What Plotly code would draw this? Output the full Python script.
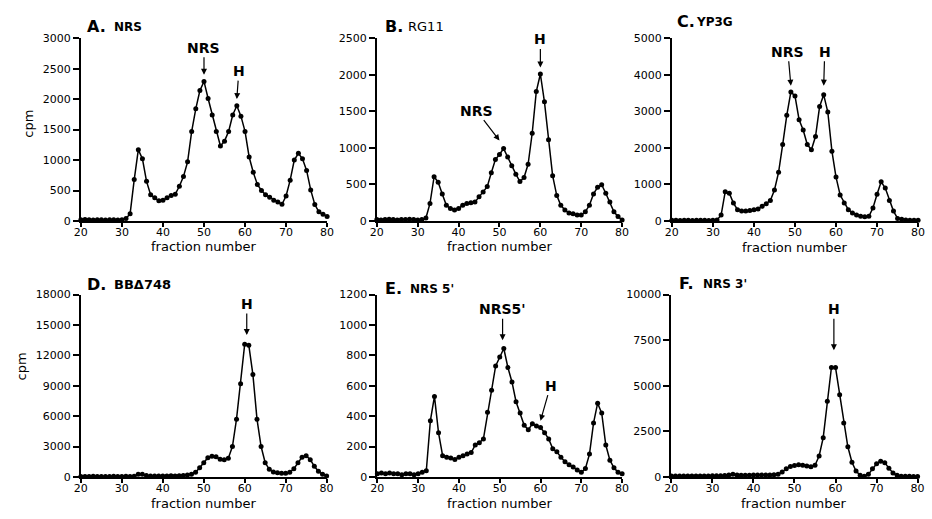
import plotly.graph_objects as go

# ---------------- data (fraction number 20..80) ----------------
fractions = list(range(20, 81))

cpm_A_NRS = [20, 25, 20, 15, 20, 20, 15, 20, 20, 15, 20,
             40, 120, 680, 1170, 1020, 650, 430, 380, 330, 340,
             380, 420, 440, 570, 730, 970, 1470, 1840, 2140, 2290,
             2010, 1740, 1470, 1230, 1310, 1470, 1740, 1890, 1720, 1470,
             1050, 800, 600, 500, 430, 390, 340, 310, 275, 410,
             670, 1000, 1110, 1020, 830, 510, 270, 150, 110, 75]

cpm_B_RG11 = [20, 15, 20, 25, 20, 15, 20, 20, 25, 20, 15, 20, 40,
              240, 605, 530, 370, 215, 170, 150, 170,
              215, 240, 250, 260, 330, 395, 470, 660, 840, 910,
              990, 875, 755, 640, 540, 595, 775, 1200, 1770, 2010,
              1630, 1110, 620, 350, 215, 150, 110, 100, 80, 80,
              125, 215, 370, 460, 495, 380, 260, 125, 60, 15]

cpm_C_YP3G = [20, 20, 15, 20, 20, 15, 20, 20, 20, 15, 20, 30,
              160, 800, 760, 490, 310, 270, 270, 285, 310,
              330, 400, 470, 560, 850, 1330, 2090, 2890, 3530, 3420,
              2770, 2490, 2090, 1950, 2310, 3130, 3450, 2980, 1910, 1200,
              710, 490, 310, 220, 160, 130, 115, 130, 355, 730,
              1070, 900, 560, 270, 70, 45, 30, 20, 20, 20]

cpm_D_BBd748 = [50, 45, 50, 55, 50, 45, 50, 50, 55, 50, 50, 55, 50, 60,
                250, 250, 150, 100, 100, 90, 100,
                100, 110, 100, 120, 150, 180, 250, 450, 900, 1400,
                1900, 2050, 2000, 1750, 1700, 1850, 3000, 5700, 9200, 13100,
                13000, 10100, 5700, 3000, 1400, 750, 480, 400, 350, 350,
                450, 800, 1400, 1950, 2100, 1700, 1050, 550, 250, 80]

cpm_E_NRS5 = [20, 25, 20, 25, 20, 20, 15, 20, 20, 15, 20, 30,
              40, 370, 530, 290, 140, 130, 125, 115, 130,
              140, 150, 160, 210, 225, 250, 425, 570, 730, 790,
              845, 720, 625, 495, 420, 340, 310, 350, 335, 325,
              290, 250, 185, 165, 130, 100, 80, 65, 45, 30,
              55, 150, 355, 485, 420, 210, 110, 60, 30, 20]

cpm_F_NRS3 = [50, 45, 50, 55, 50, 45, 50, 50, 55, 50, 60, 60, 70, 80,
              100, 140, 110, 90, 90, 90, 100,
              100, 100, 110, 110, 120, 150, 270, 450, 575, 630,
              665, 640, 600, 560, 640, 1150, 2150, 4150, 6000, 6000,
              4500, 2950, 1650, 800, 320, 90, 40, 140, 450, 720,
              860, 780, 480, 220, 90, 40, 30, 30, 25, 25]

panel_letters = ["A.", "B.", "C.", "D.", "E.", "F."]
panel_names = ["NRS", "RG11", "YP3G", "BB\u0394748", "NRS 5'", "NRS 3'"]
y_max = [3000, 2500, 5000, 18000, 1200, 10000]
y_dtick = [500, 500, 1000, 3000, 200, 2500]
x_ticks = [20, 30, 40, 50, 60, 70, 80]

# peak labels: text, panel index, fraction and cpm of the arrow tip
peak_texts = ["NRS", "H", "H", "NRS", "NRS", "H", "H", "NRS5'", "H", "H"]
peak_panel = [0, 0, 1, 1, 2, 2, 3, 4, 4, 5]
peak_x = [50, 58, 60, 50, 49, 57, 60.5, 50.7, 60, 59.6]
peak_y = [2400, 2000, 2100, 1100, 3700, 3700, 14000, 900, 370, 6950]

series = [cpm_A_NRS, cpm_B_RG11, cpm_C_YP3G, cpm_D_BBd748, cpm_E_NRS5, cpm_F_NRS3]

# ---------------- layout geometry (pixels) ----------------
W, H = 932, 519
xdom_px = [(75, 325), (375.5, 624.5), (675, 925), (75, 324.5), (376, 624.5), (674.5, 924.5)]
ydom_px = [(33, 220.5)] * 3 + [(296, 483)] * 3

def px(x):
    return x / W

def py(y):
    return 1 - y / H

FONT = "DejaVu Sans"

fig = go.Figure()
for i, ys in enumerate(series):
    n = "" if i == 0 else str(i + 1)
    fig.add_trace(go.Scatter(
        x=fractions, y=ys, mode="lines+markers",
        line=dict(color="black", width=1.5),
        marker=dict(color="black", size=5, symbol="circle"),
        cliponaxis=False,
        xaxis="x" + n, yaxis="y" + n, showlegend=False,
    ))

layout = dict(
    width=W, height=H,
    margin=dict(l=0, r=0, t=0, b=0),
    paper_bgcolor="white", plot_bgcolor="white",
    showlegend=False,
    font=dict(family=FONT, color="black"),
)

axis_common = dict(
    showline=True, linecolor="black", linewidth=2,
    ticks="outside", tickwidth=1.5, tickcolor="black",
    showgrid=False, zeroline=False, fixedrange=True,
    tickfont=dict(family=FONT, size=11, color="black"),
)

for i in range(6):
    n = "" if i == 0 else str(i + 1)
    x0, x1 = xdom_px[i]
    yt, yb = ydom_px[i]
    layout["xaxis" + n] = dict(
        axis_common, domain=[px(x0), px(x1)], anchor="y" + n,
        range=[20, 80], tickmode="array", tickvals=x_ticks,
        ticktext=[str(v) for v in x_ticks], ticklen=4, ticklabelstandoff=-4,
    )
    layout["yaxis" + n] = dict(
        axis_common, domain=[py(yb), py(yt)], anchor="x" + n,
        range=[0, y_max[i]], tick0=0, dtick=y_dtick[i], tickformat="d",
        ticklen=6,
    )

annotations = []

# panel titles
letter_pos = [(79, 21), (382, 21), (678, 16), (79, 286), (382, 290), (680, 285)]
name_pos = [(107, 21.5), (405, 21.5), (697, 16.5), (107, 286), (407, 290), (705, 285)]
name_size = [12, 13, 12, 13, 12, 12]
name_bold = [True, False, True, True, True, True]
for i in range(6):
    annotations.append(dict(
        text="<b>" + panel_letters[i] + "</b>", xref="paper", yref="paper",
        x=px(letter_pos[i][0]), y=py(letter_pos[i][1]),
        xanchor="left", yanchor="middle", showarrow=False,
        font=dict(family=FONT, size=16, color="black"),
    ))
    t = panel_names[i]
    if name_bold[i]:
        t = "<b>" + t + "</b>"
    annotations.append(dict(
        text=t, xref="paper", yref="paper",
        x=px(name_pos[i][0]), y=py(name_pos[i][1]),
        xanchor="left", yanchor="middle", showarrow=False,
        font=dict(family=FONT, size=name_size[i], color="black"),
    ))

# axis titles
xtitle_pos = [(200, 247), (500, 247), (800, 247.5), (200, 510), (500, 510), (799, 510)]
for (xx, yy) in xtitle_pos:
    annotations.append(dict(
        text="fraction number", xref="paper", yref="paper",
        x=px(xx), y=py(yy), xanchor="center", yanchor="middle",
        showarrow=False, font=dict(family=FONT, size=13, color="black"),
    ))
for (xx, yy) in [(22, 121), (15, 370)]:
    annotations.append(dict(
        text="cpm", xref="paper", yref="paper", textangle=-90,
        x=px(xx), y=py(yy), xanchor="center", yanchor="middle",
        showarrow=False, font=dict(family=FONT, size=13, color="black"),
    ))

# peak labels with arrows
offsets = [(0, -27), (2, -28), (0, -28), (-23, -30), (-3, -34), (1, -34),
           (0, -31), (0, -31), (10, -35), (0, -41)]
for k in range(len(peak_texts)):
    i = peak_panel[k]
    n = "" if i == 0 else str(i + 1)
    annotations.append(dict(
        text="<b>" + peak_texts[k] + "</b>",
        xref="x" + n, yref="y" + n, x=peak_x[k], y=peak_y[k],
        ax=offsets[k][0], ay=offsets[k][1], axref="pixel", ayref="pixel",
        showarrow=True, arrowhead=2, arrowsize=1, arrowwidth=1.2,
        arrowcolor="black", standoff=0,
        font=dict(family=FONT, size=14, color="black"),
    ))

layout["annotations"] = annotations
fig.update_layout(**layout)
fig.write_html(
    "out.html",
    config={"displayModeBar": False},
    post_script="document.body.style.margin='0';document.body.style.overflow='hidden';",
)
